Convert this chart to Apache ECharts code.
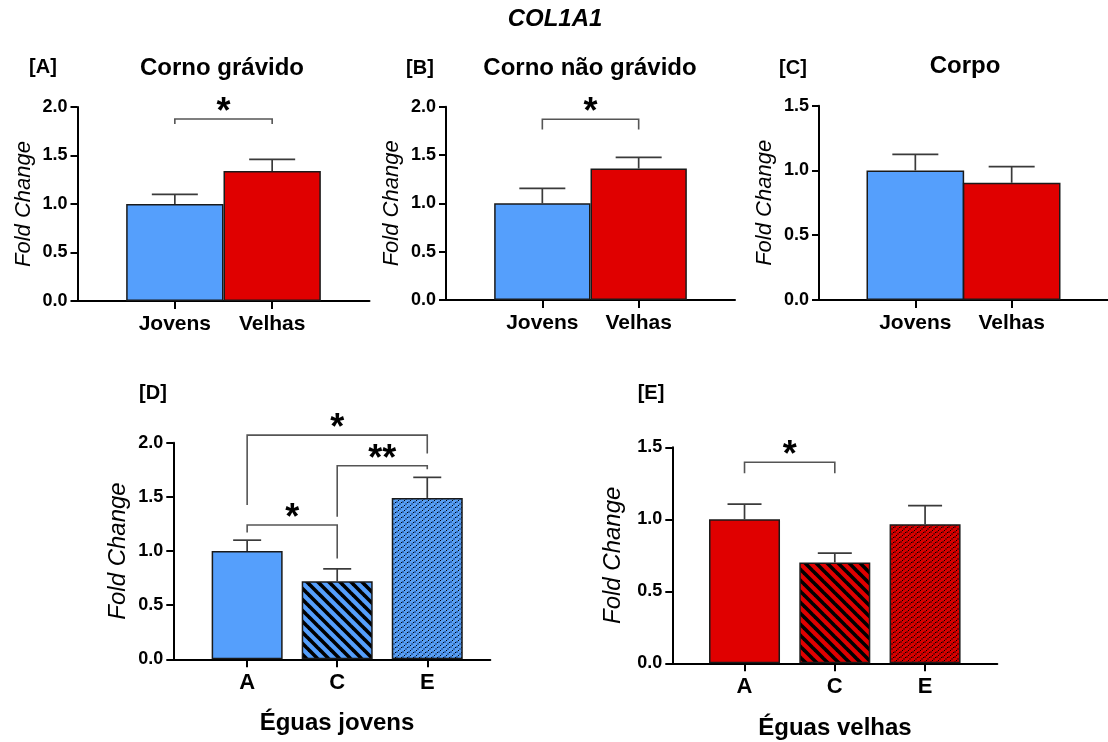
<!DOCTYPE html>
<html>
<head>
<meta charset="utf-8">
<script src="https://cdn.jsdelivr.net/npm/echarts@6/dist/echarts.min.js"></script>
<style>
  html, body { margin: 0; padding: 0; background: #fff; }
  #chart { width: 1108px; height: 742px; }
</style>
</head>
<body>
<div id="chart"></div>
<script>
// dados
var catsAge = ['Jovens', 'Velhas'];
var catsReg = ['A', 'C', 'E'];

var meanA = [1.0, 1.34];
var errA = [0.10, 0.12];
var meanB = [1.0, 1.36];
var errB = [0.155, 0.115];
var meanC = [1.0, 0.905];
var errC = [0.125, 0.125];
var meanD = [1.0, 0.72, 1.49];
var errD = [0.10, 0.115, 0.19];
var meanE = [1.0, 0.70, 0.965];
var errE = [0.105, 0.065, 0.13];

var ticks20 = [0, 0.5, 1.0, 1.5, 2.0];
var ticks15 = [0, 0.5, 1.0, 1.5];

// significancia: [de, ate, topo, perna esq, perna dir, rotulo]
var sigA = [[0, 1, 1.876, 1.825, 1.825, '*']];
var sigB = [[0, 1, 1.87, 1.765, 1.765, '*']];
var sigC = [];
var sigD = [[0, 1, 1.24, 1.17, 0.93, '*'], [1, 2, 1.787, 1.317, 1.754, '**'], [0, 2, 2.07, 1.425, 1.90, '*']];
var sigE = [[0, 1, 1.396, 1.32, 1.32, '*']];

var FONT = "'Liberation Sans', Arial, sans-serif";
var BLUE = '#559ffc';
var RED = '#e00000';

// padroes
function stripes(base) {
    var s = 11;
    var c = document.createElement('canvas');
    c.width = s; c.height = s;
    var ctx = c.getContext('2d');
    ctx.fillStyle = base;
    ctx.fillRect(0, 0, s, s);
    ctx.strokeStyle = '#000';
    ctx.lineWidth = 3.6;
    for (var k = -1; k <= 1; k++) {
        ctx.beginPath();
        ctx.moveTo(k * s - 3, -3);
        ctx.lineTo(k * s + s + 3, s + 3);
        ctx.stroke();
    }
    return { image: c, repeat: 'repeat' };
}
function dots(base, dark) {
    var c = document.createElement('canvas');
    c.width = 6; c.height = 5;
    var ctx = c.getContext('2d');
    ctx.fillStyle = base;
    ctx.fillRect(0, 0, 6, 5);
    ctx.fillStyle = dark;
    ctx.fillRect(0, 1, 2, 2);
    ctx.fillRect(3, 3, 2, 2);
    ctx.fillStyle = '#000';
    ctx.fillRect(2, 0, 1, 1);
    ctx.fillRect(5, 2, 1, 1);
    return { image: c, repeat: 'repeat' };
}

var panels = [
    { cats: catsAge, mean: meanA, err: errA, sig: sigA, ticks: ticks20, colors: [BLUE, RED],
      left: 77.5, top: 107, width: 292, height: 194, xmin: 0, xmax: 3, cap: 23, nameSize: 22, nameGap: 43, catSize: 21 },
    { cats: catsAge, mean: meanB, err: errB, sig: sigB, ticks: ticks20, colors: [BLUE, RED],
      left: 446, top: 106.7, width: 289, height: 193.3, xmin: 0, xmax: 3, cap: 23, nameSize: 22, nameGap: 43, catSize: 21 },
    { cats: catsAge, mean: meanC, err: errC, sig: sigC, ticks: ticks15, colors: [BLUE, RED],
      left: 819, top: 105.7, width: 293, height: 194.3, xmin: 0, xmax: 3, cap: 23, nameSize: 22, nameGap: 43, catSize: 21 },
    { cats: catsReg, mean: meanD, err: errD, sig: sigD, ticks: ticks20,
      colors: [BLUE, stripes(BLUE), dots('#5a9ff2', '#2f6cc0')],
      left: 173.3, top: 442.7, width: 317, height: 216.6, xmin: 0.18, xmax: 3.7, barW: 71, cap: 14, nameSize: 24, nameGap: 43, catSize: 22 },
    { cats: catsReg, mean: meanE, err: errE, sig: sigE, ticks: ticks15,
      colors: [RED, stripes(RED), dots('#d80000', '#8a0000')],
      left: 672.3, top: 447.3, width: 325, height: 216, xmin: 0.2, xmax: 3.8, barW: 71, cap: 17, nameSize: 24, nameGap: 47, catSize: 22 }
];

var grids = [], xAxes = [], yAxes = [], series = [];

panels.forEach(function (p, i) {
    var pos = p.cats.map(function (c, k) { return k + 1; });
    var barW = p.barW || p.width / (p.xmax - p.xmin);
    grids.push({ left: p.left, top: p.top, width: p.width, height: p.height });
    xAxes.push({
        type: 'value', gridIndex: i, min: p.xmin, max: p.xmax,
        axisLine: { show: true, lineStyle: { color: '#000', width: 2 } },
        splitLine: { show: false },
        axisTick: { show: true, customValues: pos, length: 8, lineStyle: { color: '#000', width: 2 } },
        axisLabel: {
            customValues: pos, margin: 13, color: '#000', fontFamily: FONT,
            fontWeight: 'bold', fontSize: p.catSize,
            formatter: function (v) { return p.cats[Math.round(v) - 1]; }
        }
    });
    yAxes.push({
        type: 'value', gridIndex: i, min: 0, max: p.ticks[p.ticks.length - 1], interval: 0.5,
        name: 'Fold Change', nameLocation: 'middle', nameGap: p.nameGap, nameRotate: 90,
        nameTextStyle: { fontFamily: FONT, fontStyle: 'italic', fontSize: p.nameSize, color: '#000' },
        axisLine: { show: true, lineStyle: { color: '#000', width: 2 } },
        splitLine: { show: false },
        axisTick: { show: true, length: 7, lineStyle: { color: '#000', width: 2 } },
        axisLabel: {
            margin: 10, color: '#000', fontFamily: FONT, fontWeight: 'bold', fontSize: 18,
            formatter: function (v) { return v.toFixed(1); }
        }
    });
    // barras
    series.push({
        type: 'bar', xAxisIndex: i, yAxisIndex: i, barWidth: barW,
        data: p.mean.map(function (m, k) {
            return { value: [k + 1, m], itemStyle: { color: p.colors[k] } };
        }),
        itemStyle: { borderColor: '#1a1a1a', borderWidth: 1.5 },
        silent: true
    });
    // barras de erro (so para cima)
    series.push({
        type: 'custom', xAxisIndex: i, yAxisIndex: i, z: 5, silent: true,
        data: p.mean.map(function (m, k) { return [k + 1, m, m + p.err[k]]; }),
        renderItem: function (params, api) {
            var lo = api.coord([api.value(0), api.value(1)]);
            var hi = api.coord([api.value(0), api.value(2)]);
            var st = { stroke: '#3a3a3a', lineWidth: 1.7 };
            return {
                type: 'group',
                children: [
                    { type: 'line', shape: { x1: lo[0], y1: lo[1], x2: hi[0], y2: hi[1] }, style: st },
                    { type: 'line', shape: { x1: hi[0] - p.cap, y1: hi[1], x2: hi[0] + p.cap, y2: hi[1] }, style: st }
                ]
            };
        }
    });
    // colchetes de significancia
    if (p.sig.length) {
        series.push({
            type: 'custom', xAxisIndex: i, yAxisIndex: i, z: 6, silent: true, clip: false,
            data: p.sig.map(function (s) { return [s[0] + 1, s[1] + 1, s[2], s[3], s[4]]; }),
            renderItem: function (params, api) {
                var x1 = api.value(0), x2 = api.value(1);
                var a = api.coord([x1, api.value(3)]);
                var b = api.coord([x1, api.value(2)]);
                var c = api.coord([x2, api.value(2)]);
                var d = api.coord([x2, api.value(4)]);
                return {
                    type: 'group',
                    children: [
                        { type: 'polyline', shape: { points: [a, b, c, d] },
                          style: { stroke: '#555', lineWidth: 1.6, fill: null } },
                        { type: 'text', x: (b[0] + c[0]) / 2, y: b[1] - 6,
                          style: { text: p.sig[params.dataIndex][5], fill: '#000',
                                   font: 'bold 36px ' + FONT, textAlign: 'center', textVerticalAlign: 'middle' } }
                    ]
                };
            }
        });
    }
});

function label(text, x, y, size, style) {
    return {
        type: 'text', x: x, y: y, silent: true,
        style: { text: text, fill: '#000', font: (style || 'bold') + ' ' + size + 'px ' + FONT,
                 textAlign: 'center', textVerticalAlign: 'middle' }
    };
}

var chart = echarts.init(document.getElementById('chart'));
chart.setOption({
    animation: false,
    grid: grids,
    xAxis: xAxes,
    yAxis: yAxes,
    series: series,
    graphic: [
        label('COL1A1', 555, 19, 24, 'italic bold'),
        label('[A]', 43, 67, 20),
        label('Corno grávido', 222, 68, 24),
        label('[B]', 420, 68, 20),
        label('Corno não grávido', 590, 68, 24),
        label('[C]', 793, 68, 20),
        label('Corpo', 965, 66, 24),
        label('[D]', 153, 393, 20),
        label('[E]', 651, 393, 20),
        label('Éguas jovens', 337, 723, 24),
        label('Éguas velhas', 835, 728, 24)
    ]
});

window.onresize = function () {
    chart.resize();
};
</script>
</body>
</html>
